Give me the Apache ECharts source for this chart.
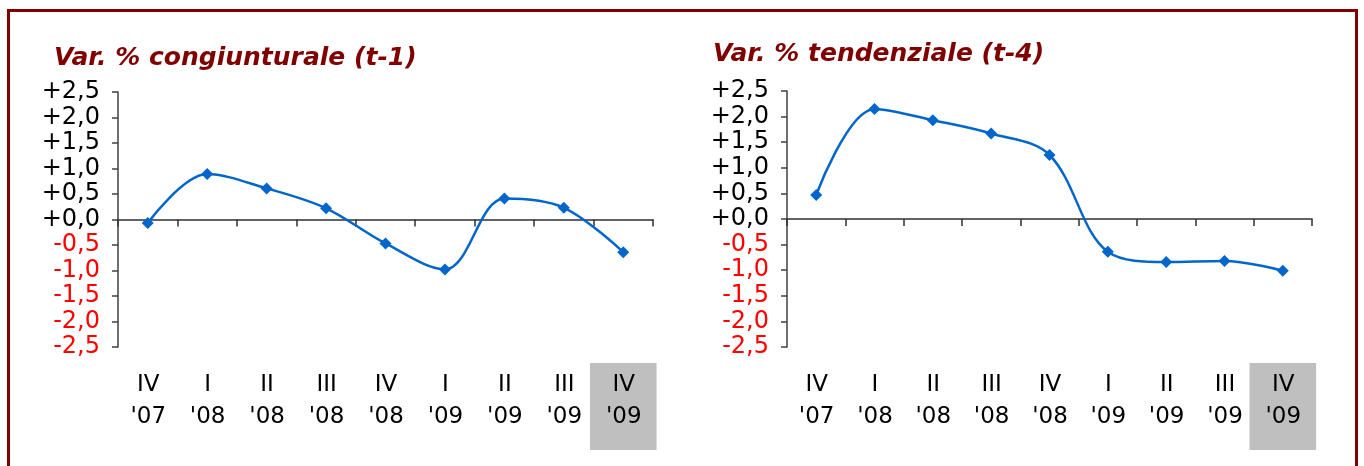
<!DOCTYPE html>
<html>
<head>
<meta charset="utf-8">
<script src="https://cdn.jsdelivr.net/npm/echarts@6/dist/echarts.min.js"></script>
<style>
  html, body { margin: 0; padding: 0; background: #ffffff; }
  #wrap { position: relative; width: 1364px; height: 466px; overflow: hidden; background: #ffffff; }
  #frame { position: absolute; left: 7px; top: 9px; width: 1351px; height: 480px; border: 3px solid #800000; box-sizing: border-box; }
  #chart { position: absolute; left: 0; top: 0; width: 1364px; height: 466px; }
</style>
</head>
<body>
<div id="wrap">
  <div id="frame"></div>
  <div id="chart"></div>
</div>
<script>
// ---- data ----
const categories = ["IV\n'07", "I\n'08", "II\n'08", "III\n'08", "IV\n'08", "I\n'09", "II\n'09", "III\n'09", "IV\n'09"];
const congiunturale = [-0.07, 0.89, 0.61, 0.22, -0.47, -0.98, 0.41, 0.23, -0.64];
const tendenziale = [0.47, 2.15, 1.93, 1.67, 1.25, -0.64, -0.84, -0.82, -1.01];
const titleLeft = "Var. % congiunturale (t-1)";
const titleRight = "Var. % tendenziale (t-4)";
const yMin = -2.5, yMax = 2.5, yStep = 0.5;

const FONT = "DejaVu Sans";
const lastIdx = categories.length - 1;

function fmt(v) {
  const r = Math.round(v * 10) / 10;
  const s = Math.abs(r).toFixed(1).replace('.', ',');
  return (r >= 0 ? '+' : '-') + s;
}

function labelData() {
  return categories.map((c, i) => ({
    value: c,
    textStyle: {
      backgroundColor: i === lastIdx ? '#BFBFBF' : 'transparent',
      padding: [6, 15, 17, 16]
    }
  }));
}

function yAxisFor(gi) {
  return {
    type: 'value', gridIndex: gi, min: yMin, max: yMax, interval: yStep,
    splitLine: { show: false },
    axisLine: { show: true, lineStyle: { color: '#404040', width: 1.5 } },
    axisTick: { show: true, length: 6, lineStyle: { color: '#404040', width: 1.5 } },
    axisLabel: {
      fontFamily: FONT, fontSize: 24, margin: 18,
      formatter: fmt,
      color: (v) => (Number(v) < 0 ? '#FF0000' : '#000000')
    }
  };
}

function zeroAxisFor(gi) {
  return {
    type: 'category', gridIndex: gi, data: categories, boundaryGap: true,
    axisLine: { show: true, onZero: true, lineStyle: { color: '#303030', width: 1.5 } },
    axisTick: { show: true, length: 7, alignWithLabel: false, lineStyle: { color: '#303030', width: 1.5 } },
    axisLabel: { show: false }
  };
}

function labelAxisFor(gi) {
  return {
    type: 'category', gridIndex: gi, data: labelData(), boundaryGap: true,
    position: 'bottom',
    axisLine: { show: false, onZero: false },
    axisTick: { show: false },
    axisLabel: {
      fontFamily: FONT, fontSize: 23, lineHeight: 32, color: '#000000',
      margin: 16, interval: 0
    }
  };
}

function seriesFor(gi, data) {
  return {
    type: 'line', xAxisIndex: gi * 2, yAxisIndex: gi, data: data,
    smooth: 0.35,
    symbol: 'diamond', symbolSize: 12,
    itemStyle: { color: '#0066CC' },
    lineStyle: { color: '#0066CC', width: 2.5 },
    z: 5
  };
}

const chart = echarts.init(document.getElementById('chart'), null, { renderer: 'canvas' });
chart.setOption({
  animation: false,
  backgroundColor: 'transparent',
  title: [
    { text: titleLeft, left: 49, top: 41,
      textStyle: { fontFamily: FONT, fontSize: 25, fontWeight: 'bold', fontStyle: 'italic', color: '#800000' } },
    { text: titleRight, left: 708, top: 37,
      textStyle: { fontFamily: FONT, fontSize: 25, fontWeight: 'bold', fontStyle: 'italic', color: '#800000' } }
  ],
  grid: [
    { left: 118, right: 711, top: 92, bottom: 119, containLabel: false },
    { left: 787, right: 52, top: 91, bottom: 119, containLabel: false }
  ],
  xAxis: [zeroAxisFor(0), labelAxisFor(0), zeroAxisFor(1), labelAxisFor(1)],
  yAxis: [yAxisFor(0), yAxisFor(1)],
  series: [seriesFor(0, congiunturale), seriesFor(1, tendenziale)]
});
</script>
</body>
</html>
